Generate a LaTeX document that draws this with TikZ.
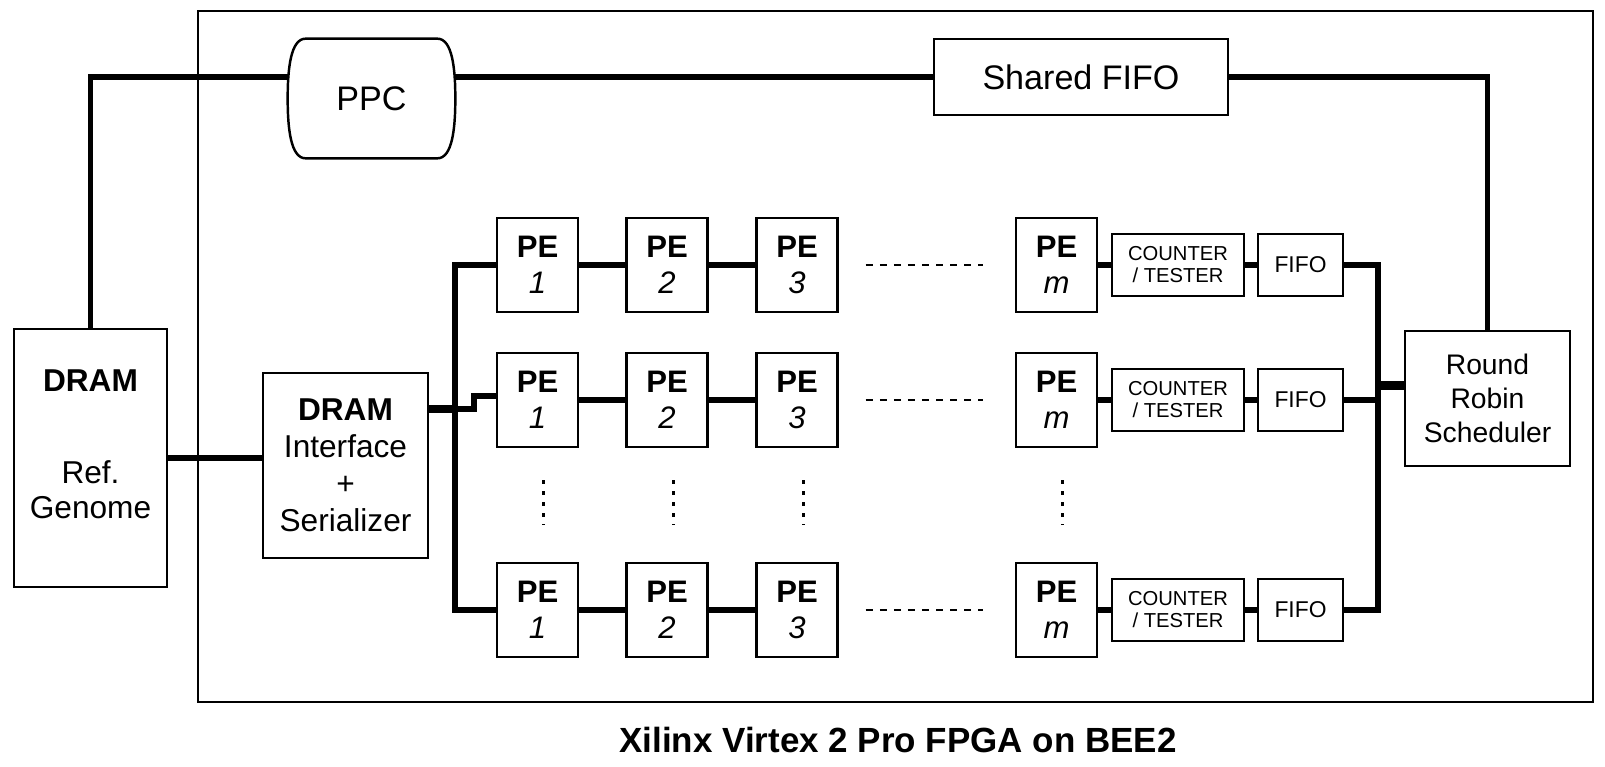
\documentclass[tikz,border=0pt]{standalone}
\usepackage{fontspec}
\setmainfont{Liberation Sans}
\usepackage{tikz}
\usetikzlibrary{positioning,calc}

\tikzset{
  box/.style={rectangle, draw, line width=1.4pt, inner sep=0pt, align=center},
  pebox/.style={box, minimum width=1.62cm, minimum height=1.88cm, font=\fontsize{17.7}{20.5}\selectfont},
  ctbox/.style={box, minimum width=2.64cm, minimum height=1.24cm, font=\fontsize{11.5}{12.5}\selectfont},
  fifobox/.style={box, minimum width=1.7cm, minimum height=1.24cm, font=\fontsize{13}{15}\selectfont},
  link/.style={line width=3pt},
  fatlink/.style={line width=5pt},
  hdots/.style={line width=1.2pt, dash pattern=on 4pt off 4pt},
  vdots/.style={line width=1.7pt, dash pattern=on 2.3pt off 4pt},
}

\begin{document}
\begin{tikzpicture}[x=0.02cm, y=-0.02cm]
    \useasboundingbox (0,0) rectangle (1605,767);

    % FPGA board
    \node[box, line width=1.3pt, minimum width=27.9cm, minimum height=13.82cm] (fpga) at (895.5,356.5) {};
    \node[font=\fontsize{19.9}{24}\selectfont\bfseries] (caption) at (898,740) {Xilinx Virtex 2 Pro FPGA on BEE2};

    % Memory side
    \node[box, minimum width=3.06cm, minimum height=5.16cm] (dram) at (90.5,458) {};
    \node[font=\fontsize{18}{21}\selectfont\bfseries] (dramtitle) at (90.5,381) {DRAM};
    \node[font=\fontsize{18}{20}\selectfont, align=center] (dramtext) at (90.5,490) {Ref.\\Genome};
    \node[box, minimum width=3.3cm, minimum height=3.7cm, font=\fontsize{18}{21}\selectfont] (iface) at (345.5,465.5) {\textbf{DRAM}\\Interface\\+\\Serializer};

    % PowerPC, shared FIFO, scheduler
    \node[minimum width=3.34cm, minimum height=2.38cm, font=\fontsize{19.4}{23}\selectfont] (ppc) at (371.5,98.5) {PPC};
    \draw[line width=1.4pt] ([xshift=0.36cm]ppc.north west) -- ([xshift=-0.36cm]ppc.north east)
        .. controls ([xshift=-0.06cm]ppc.north east) and ([yshift=0.6cm]ppc.east) .. (ppc.east)
        .. controls ([yshift=-0.6cm]ppc.east) and ([xshift=-0.06cm]ppc.south east) .. ([xshift=-0.36cm]ppc.south east)
        -- ([xshift=0.36cm]ppc.south west)
        .. controls ([xshift=0.06cm]ppc.south west) and ([yshift=-0.6cm]ppc.west) .. (ppc.west)
        .. controls ([yshift=0.6cm]ppc.west) and ([xshift=0.06cm]ppc.north west) .. ([xshift=0.36cm]ppc.north west) -- cycle;
    \node[box, minimum width=5.88cm, minimum height=1.52cm, font=\fontsize{19.4}{23}\selectfont] (sfifo) at (1081,77) {Shared FIFO};
    \node[box, minimum width=3.3cm, minimum height=2.7cm, font=\fontsize{16.1}{19.3}\selectfont] (sched) at (1487.5,398.5) {Round\\Robin\\Scheduler};

    % PE chains
    \foreach \r/\y in {1/265, 2/400, 3/610} {
        \foreach \c/\x in {1/537.5, 2/667, 3/797, m/1056.5}
            \node[pebox] (pe\r\c) at (\x,\y) {\textbf{PE}\\\textit{\c}};
        \node[ctbox] (ct\r) at (1178,\y) {COUNTER\\/ TESTER};
        \node[fifobox] (fifo\r) at (1300.5,\y) {FIFO};
        \draw[link] (pe\r1) -- (pe\r2);
        \draw[link] (pe\r2) -- (pe\r3);
        \draw[link] (pe\r m) -- (ct\r);
        \draw[link] (ct\r) -- (fifo\r);
        \draw[hdots] ([xshift=0.54cm]pe\r3.east) -- ([xshift=-0.64cm]pe\r m.west);
    }
    \foreach \c in {1,2,3,m}
        \draw[vdots] ([xshift=0.12cm,yshift=-0.64cm]pe2\c.south) -- ([xshift=0.12cm,yshift=0.74cm]pe3\c.north);

    % Input bus
    \coordinate (lbus) at (455,400);
    \draw[link] (dram.east) -- (dram.east -| iface.west);
    \draw[link] (pe11.west) -| (lbus) |- (pe31.west);
    \draw[fatlink] ([yshift=1.13cm]iface.east) -- ([yshift=1.13cm]iface.east -| lbus) coordinate (tap);
    \draw[link] (tap) -- ++(19,0) |- ([yshift=0.08cm]pe21.west);

    % Output bus
    \coordinate (rbus) at (1378,400);
    \draw[link] (fifo1.east) -| (rbus) |- (fifo3.east);
    \draw[link] (fifo2.east) -- (fifo2.east -| rbus);
    \draw[fatlink] ($(sched.west -| rbus)+(0,-13)$) -- ($(sched.west)+(0,-13)$);

    % Control path
    \draw[link] (dram.north) |- (ppc.west |- sfifo.west);
    \draw[link] (ppc.east |- sfifo.west) -- (sfifo.west);
    \draw[link] (sfifo.east) -| (sched.north);
\end{tikzpicture}
\end{document}
